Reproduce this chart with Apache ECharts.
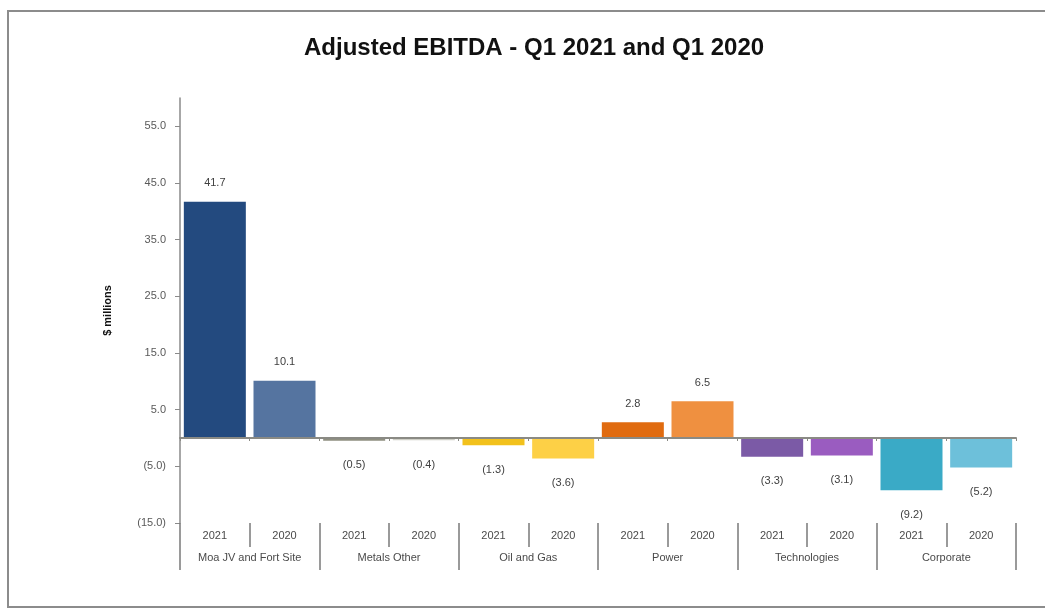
<!DOCTYPE html>
<html>
<head>
<meta charset="utf-8">
<script src="https://cdn.jsdelivr.net/npm/echarts@6/dist/echarts.min.js"></script>
<style>
  html, body { margin: 0; padding: 0; background: #ffffff; }
  #chart { width: 1045px; height: 610px; }
</style>
</head>
<body>
<div id="chart"></div>
<script>
// Segments and the two quarters compared within each
const segments = ['Moa JV and Fort Site', 'Metals Other', 'Oil and Gas', 'Power', 'Technologies', 'Corporate'];
const years = ['2021', '2020'];

// Adjusted EBITDA, $ millions, per segment: [Q1 2021, Q1 2020]
const ebitda2021 = [41.7, -0.5, -1.3, 2.8, -3.3, -9.2];
const ebitda2020 = [10.1, -0.4, -3.6, 6.5, -3.1, -5.2];

// Bar colours per segment: [2021, 2020]
const colors2021 = ['#234a7f', '#8f8f80', '#f2c11c', '#e06b10', '#7b5aa6', '#3aaac6'];
const colors2020 = ['#5574a0', '#cfcfc6', '#fdd046', '#ef9040', '#9a5cc0', '#6dc0da'];

// Y axis ticks
const yMin = -15, yMax = 60, yStep = 10;

const fmt = v => (v < 0 ? '(' + Math.abs(v).toFixed(1) + ')' : v.toFixed(1));

// Flatten into one bar per segment/year pair
const cats = [];
const bars = [];
segments.forEach((s, i) => {
  [ebitda2021[i], ebitda2020[i]].forEach((v, j) => {
    cats.push(years[j]);
    bars.push({
      value: v,
      itemStyle: { color: j === 0 ? colors2021[i] : colors2020[i] },
      label: v >= 0 ? { position: 'top', distance: 13 } : { position: 'bottom', distance: 19 }
    });
  });
});

const chart = echarts.init(document.getElementById('chart'), null, { renderer: 'canvas' });
const font = 'Liberation Sans, Arial, sans-serif';

chart.setOption({
  animation: false,
  backgroundColor: '#ffffff',
  textStyle: { fontFamily: font },
  title: {
    text: 'Adjusted EBITDA - Q1 2021 and Q1 2020',
    left: 299,
    top: 31,
    textStyle: { fontFamily: font, fontSize: 24, fontWeight: 'bold', color: '#111111' }
  },
  graphic: [{
    type: 'rect',
    shape: { x: 8, y: 11, width: 1060, height: 596 },
    style: { fill: 'none', stroke: '#8c8c8c', lineWidth: 2 },
    silent: true
  }],
  grid: { left: 180, right: 29, top: 98, bottom: 87, containLabel: false },
  xAxis: [
    {
      // zero line with small boundary ticks
      type: 'category',
      data: cats,
      axisLine: { onZero: true, lineStyle: { color: '#8a8a84', width: 2 } },
      axisTick: { show: true, length: 3, lineStyle: { color: '#8a8a84' } },
      axisLabel: { show: false },
      z: 5
    },
    {
      // year labels under the plot, short separators
      type: 'category',
      data: cats,
      position: 'bottom',
      axisLine: { show: false, onZero: false },
      axisTick: { show: true, length: 24, lineStyle: { color: '#7a7a7a', width: 1.5 } },
      axisLabel: { color: '#4a4a4a', fontSize: 11, margin: 7, fontFamily: font },
      splitLine: { show: false }
    },
    {
      // segment labels, long separators
      type: 'category',
      data: segments,
      position: 'bottom',
      axisLine: { show: false, onZero: false },
      axisTick: { show: true, length: 47, lineStyle: { color: '#7a7a7a', width: 1.5 } },
      axisLabel: { color: '#4a4a4a', fontSize: 11, margin: 29, fontFamily: font },
      splitLine: { show: false }
    }
  ],
  yAxis: {
    type: 'value',
    min: yMin,
    max: yMax,
    interval: yStep,
    name: '$ millions',
    nameLocation: 'middle',
    nameGap: 67,
    nameRotate: 90,
    nameTextStyle: { fontFamily: font, fontSize: 11, fontWeight: 'bold', color: '#111111' },
    axisLine: { show: true, lineStyle: { color: '#8a8a8a', width: 1.5 } },
    axisTick: { show: true, length: 5, lineStyle: { color: '#8a8a8a' } },
    axisLabel: {
      color: '#595959', fontSize: 11, margin: 14, fontFamily: font,
      showMaxLabel: false,
      formatter: v => (v === yMax ? '' : fmt(v))
    },
    splitLine: { show: false }
  },
  series: [{
    type: 'bar',
    xAxisIndex: 0,
    data: bars,
    barCategoryGap: '11%',
    label: {
      show: true,
      color: '#404040',
      fontSize: 11,
      fontFamily: font,
      formatter: p => fmt(p.value)
    }
  }]
});
</script>
</body>
</html>
